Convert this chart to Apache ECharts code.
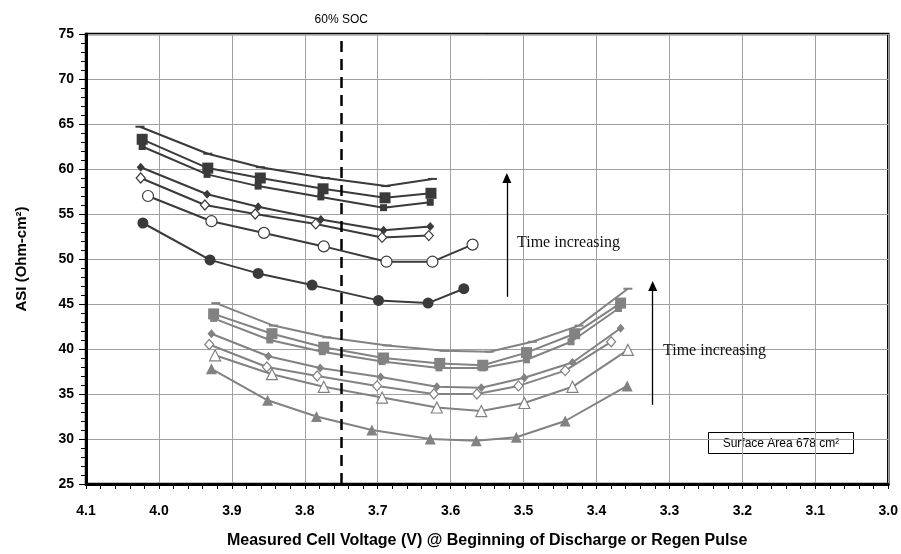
<!DOCTYPE html>
<html>
<head>
<meta charset="utf-8">
<script src="https://cdn.jsdelivr.net/npm/echarts@6/dist/echarts.min.js"></script>
<style>html,body{margin:0;padding:0;background:#fff}#c{width:901px;height:554px}</style>
</head>
<body>
<div id="c"></div>
<script>
// ---- Data ----
const xTicks = [4.1, 4.0, 3.9, 3.8, 3.7, 3.6, 3.5, 3.4, 3.3, 3.2, 3.1, 3.0];
const yTicks = [25, 30, 35, 40, 45, 50, 55, 60, 65, 70, 75];

// Upper group (dark)
const u1V = [4.026, 3.933, 3.861, 3.772, 3.689, 3.625];
const u1A = [64.7, 61.7, 60.2, 59.0, 58.1, 58.9];
const u2V = [4.023, 3.933, 3.861, 3.775, 3.690, 3.627];
const u2A = [63.3, 60.1, 59.0, 57.8, 56.8, 57.3];
const u3V = [4.023, 3.934, 3.864, 3.778, 3.692, 3.628];
const u3A = [62.5, 59.4, 58.1, 56.9, 55.7, 56.3];
const u4V = [4.025, 3.934, 3.864, 3.778, 3.692, 3.628];
const u4A = [60.2, 57.2, 55.8, 54.4, 53.2, 53.6];
const u5V = [4.025, 3.937, 3.868, 3.785, 3.694, 3.630];
const u5A = [59.0, 56.0, 55.0, 53.9, 52.4, 52.6];
const u6V = [4.015, 3.928, 3.856, 3.774, 3.688, 3.625, 3.570];
const u6A = [57.0, 54.2, 52.9, 51.4, 49.7, 49.7, 51.6];
const u7V = [4.022, 3.930, 3.864, 3.790, 3.699, 3.631, 3.582];
const u7A = [54.0, 49.9, 48.4, 47.1, 45.4, 45.1, 46.7];

// Lower group (gray)
const l1V = [3.922, 3.843, 3.770, 3.687, 3.609, 3.547, 3.488, 3.424, 3.357];
const l1A = [45.1, 42.6, 41.3, 40.4, 39.8, 39.7, 40.8, 42.6, 46.7];
const l2V = [3.925, 3.845, 3.774, 3.692, 3.615, 3.556, 3.496, 3.430, 3.367];
const l2A = [43.9, 41.7, 40.2, 39.0, 38.4, 38.2, 39.6, 41.7, 45.1];
const l3V = [3.925, 3.848, 3.776, 3.694, 3.616, 3.556, 3.496, 3.435, 3.370];
const l3A = [43.4, 41.0, 39.7, 38.6, 37.9, 37.9, 38.8, 40.8, 44.5];
const l4V = [3.928, 3.850, 3.779, 3.696, 3.619, 3.558, 3.499, 3.433, 3.367];
const l4A = [41.7, 39.2, 37.9, 36.9, 35.8, 35.7, 36.8, 38.5, 42.3];
const l5V = [3.931, 3.852, 3.783, 3.701, 3.623, 3.564, 3.507, 3.443, 3.380];
const l5A = [40.5, 38.0, 37.0, 35.9, 35.0, 35.0, 35.9, 37.6, 40.8];
const l6V = [3.923, 3.845, 3.774, 3.694, 3.619, 3.558, 3.499, 3.433, 3.357];
const l6A = [39.3, 37.2, 35.8, 34.6, 33.5, 33.1, 34.0, 35.8, 39.9];
const l7V = [3.928, 3.851, 3.784, 3.708, 3.628, 3.565, 3.510, 3.443, 3.358];
const l7A = [37.8, 34.3, 32.5, 31.0, 30.0, 29.8, 30.2, 32.0, 35.9];

// Annotations
const socVoltage = 3.75;
const arrow1 = { v: 3.523, from: 45.8, to: 59.0 };
const arrow2 = { v: 3.323, from: 33.8, to: 47.0 };

// ---- Build ----
const DARK = '#3a3a3a';
const GRAY = '#828282';
function zip(v, a) { return v.map((x, i) => [x, a[i]]); }
function mk(name, v, a, color, symbol, size, open) {
  return {
    name: name, type: 'line', data: zip(v, a),
    symbol: symbol, symbolSize: size, showSymbol: true,
    lineStyle: { color: color, width: 2 },
    itemStyle: open ? { color: '#fff', borderColor: color, borderWidth: 1.2 } : { color: color, borderWidth: 0 },
    z: 3, animation: false
  };
}

const series = [
  mk('U1', u1V, u1A, DARK, 'rect', [9, 2], false),
  mk('U2', u2V, u2A, DARK, 'rect', 11, false),
  mk('U3', u3V, u3A, DARK, 'rect', 7, false),
  mk('U4', u4V, u4A, DARK, 'diamond', [8, 9], false),
  mk('U5', u5V, u5A, DARK, 'diamond', [9, 10], true),
  mk('U6', u6V, u6A, DARK, 'circle', 11, true),
  mk('U7', u7V, u7A, DARK, 'circle', 11, false),
  mk('L1', l1V, l1A, GRAY, 'rect', [9, 2], false),
  mk('L2', l2V, l2A, GRAY, 'rect', 11, false),
  mk('L3', l3V, l3A, GRAY, 'rect', 7, false),
  mk('L4', l4V, l4A, GRAY, 'diamond', [8, 9], false),
  mk('L5', l5V, l5A, GRAY, 'diamond', [9, 10], true),
  mk('L6', l6V, l6A, GRAY, 'triangle', 11, true),
  mk('L7', l7V, l7A, GRAY, 'triangle', 11, false)
];

series.push({
  name: 'annot', type: 'line', data: [], animation: false, z: 4,
  markLine: {
    silent: true, animation: false, symbol: ['none', 'none'],
    data: [
      [{ coord: [socVoltage, 25], symbol: 'none', lineStyle: { color: '#000', width: 2.5, type: [11, 7] } },
       { coord: [socVoltage, 75], symbol: 'none',
         label: { show: true, position: 'end', formatter: '60% SOC', color: '#000', fontSize: 12, fontFamily: 'Liberation Sans, Arial', distance: 8 } }],
      [{ coord: [arrow1.v, arrow1.from], symbol: 'none', lineStyle: { color: '#000', width: 1.3, type: 'solid' }, label: { show: false } },
       { coord: [arrow1.v, arrow1.to], symbol: 'triangle', symbolSize: [9, 10] }],
      [{ coord: [arrow2.v, arrow2.from], symbol: 'none', lineStyle: { color: '#000', width: 1.3, type: 'solid' }, label: { show: false } },
       { coord: [arrow2.v, arrow2.to], symbol: 'triangle', symbolSize: [9, 10] }]
    ],
    label: { show: false }
  }
});

const option = {
  backgroundColor: '#fff',
  animation: false,
  grid: { left: 86, right: 11, top: 34, bottom: 67, show: true, borderColor: '#000', borderWidth: 2.5, backgroundColor: 'transparent' },
  xAxis: {
    type: 'value', min: 3.0, max: 4.1, interval: 0.1, inverse: true,
    name: 'Measured Cell Voltage (V) @ Beginning of Discharge or Regen Pulse',
    nameLocation: 'middle', nameGap: 49,
    nameTextStyle: { fontSize: 16, fontWeight: 'bold', color: '#000', fontFamily: 'Liberation Sans, Arial' },
    axisLine: { show: true, lineStyle: { color: '#000', width: 3 } },
    axisTick: { show: true, length: 5, lineStyle: { color: '#000', width: 1 } },
    minorTick: { show: true, splitNumber: 5, length: 5, lineStyle: { color: '#000', width: 1 } },
    axisLabel: { margin: 20, fontSize: 14, fontWeight: 'bold', color: '#000', fontFamily: 'Liberation Sans, Arial',
      formatter: function (v) { const t = xTicks.find(x => Math.abs(x - v) < 1e-6); return t !== undefined ? t.toFixed(1) : ''; } },
    splitLine: { show: true, lineStyle: { color: '#a0a0a0', width: 1 } }
  },
  yAxis: {
    type: 'value', min: 25, max: 75, interval: 5,
    name: 'ASI (Ohm-cm\u00B2)', nameLocation: 'middle', nameGap: 57,
    nameTextStyle: { fontSize: 15, fontWeight: 'bold', color: '#000', fontFamily: 'Liberation Sans, Arial' },
    axisLine: { show: true, lineStyle: { color: '#000', width: 3 } },
    axisTick: { show: true, length: 7, lineStyle: { color: '#000', width: 1 } },
    minorTick: { show: true, splitNumber: 5, length: 5, lineStyle: { color: '#000', width: 1 } },
    axisLabel: { margin: 12, fontSize: 14, fontWeight: 'bold', color: '#000', fontFamily: 'Liberation Sans, Arial',
      formatter: function (v) { return yTicks.indexOf(v) >= 0 ? String(v) : ''; } },
    splitLine: { show: true, lineStyle: { color: '#a0a0a0', width: 1 } }
  },
  series: series,
  graphic: [
    { type: 'text', left: 517, top: 235, z: 10,
      style: { text: 'Time increasing', fill: '#111', font: '16px "Liberation Serif", "Times New Roman", serif' } },
    { type: 'text', left: 663, top: 343, z: 10,
      style: { text: 'Time increasing', fill: '#111', font: '16px "Liberation Serif", "Times New Roman", serif' } },
    { type: 'group', left: 708, top: 432, z: 10, children: [
      { type: 'rect', shape: { x: 0, y: 0, width: 145, height: 21 }, style: { fill: '#fff', stroke: '#000', lineWidth: 1 } },
      { type: 'text', x: 72.5, y: 11, style: { text: 'Surface Area 678 cm\u00B2', fill: '#000', font: '12px "Liberation Sans", Arial', align: 'center', verticalAlign: 'middle' } }
    ] }
  ]
};

const chart = echarts.init(document.getElementById('c'), null, { renderer: 'canvas' });
chart.setOption(option);
</script>
</body>
</html>
